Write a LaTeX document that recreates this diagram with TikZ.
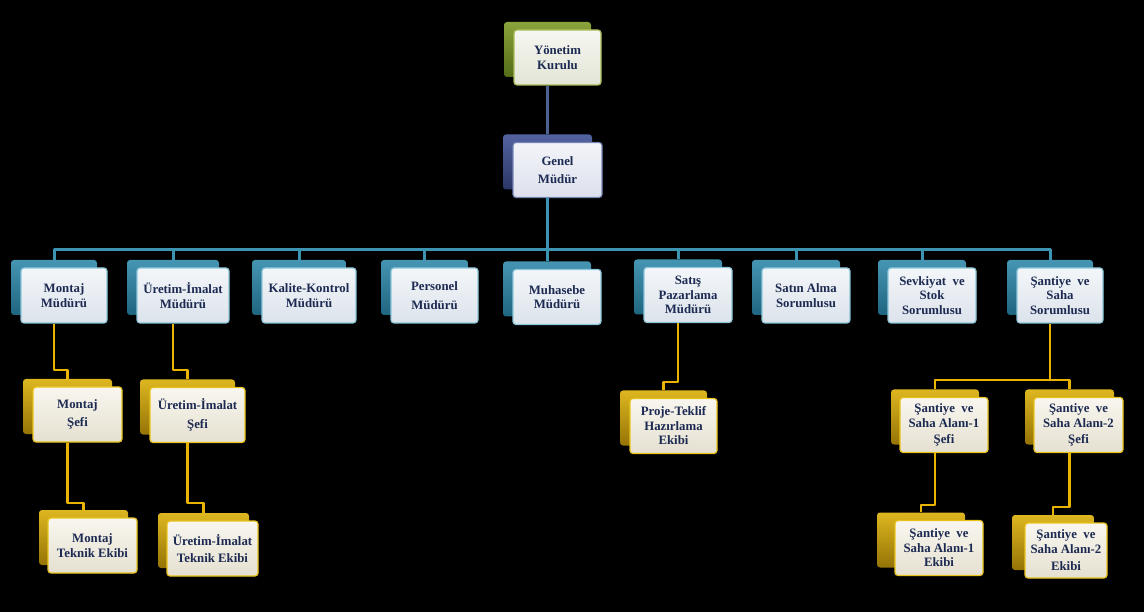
\documentclass[tikz,border=0pt]{standalone}
\usepackage{fontspec}
\setmainfont{Liberation Serif}
\usetikzlibrary{calc}
\definecolor{txt}{HTML}{1C2A52}
\definecolor{tealtop}{HTML}{4595B2}
\definecolor{tealbot}{HTML}{1F6580}
\definecolor{tealedge}{HTML}{8CC6DA}
\definecolor{goldtop}{HTML}{DDB620}
\definecolor{goldbot}{HTML}{957406}
\definecolor{goldedge}{HTML}{E8C21A}
\definecolor{greentop}{HTML}{8AA33A}
\definecolor{greenbot}{HTML}{536C18}
\definecolor{greenedge}{HTML}{A7BC58}
\definecolor{navytop}{HTML}{5363A0}
\definecolor{navybot}{HTML}{2A3666}
\definecolor{navyedge}{HTML}{7484B4}
\definecolor{tealfronttop}{HTML}{F3F6F9}
\definecolor{tealfrontbot}{HTML}{DCE3EB}
\definecolor{goldfronttop}{HTML}{F8F6EF}
\definecolor{goldfrontbot}{HTML}{E5E0D0}
\definecolor{greenfronttop}{HTML}{F6F7F0}
\definecolor{greenfrontbot}{HTML}{E2E5D6}
\definecolor{navyfronttop}{HTML}{F3F4F9}
\definecolor{navyfrontbot}{HTML}{DDE0EC}
\definecolor{busc}{HTML}{3C93B2}
\definecolor{slatec}{HTML}{4E6290}
\definecolor{goldc}{HTML}{E8B400}
\tikzset{
  x=1pt, y=-1pt,
  boxbase/.style={rounded corners=3pt, align=center, text=txt,
    font=\fontsize{12.8}{14.5}\selectfont\bfseries, inner sep=2pt,
    minimum height=55pt, line width=1.2pt},
  backbase/.style={rounded corners=3pt, minimum height=55pt, draw=none, inner sep=0pt},
  frontteal/.style={boxbase, draw=tealedge, top color=tealfronttop, bottom color=tealfrontbot},
  frontgold/.style={boxbase, draw=goldedge, top color=goldfronttop, bottom color=goldfrontbot},
  frontgreen/.style={boxbase, draw=greenedge, top color=greenfronttop, bottom color=greenfrontbot},
  frontnavy/.style={boxbase, draw=navyedge, top color=navyfronttop, bottom color=navyfrontbot},
  backteal/.style={backbase, top color=tealtop, bottom color=tealbot},
  backgold/.style={backbase, top color=goldtop, bottom color=goldbot},
  backgreen/.style={backbase, top color=greentop, bottom color=greenbot},
  backnavy/.style={backbase, top color=navytop, bottom color=navybot},
  busline/.style={draw=busc, line width=3pt, line join=round},
  slateline/.style={draw=slatec, line width=3pt},
  goldline/.style={draw=goldc, line width=2.4pt, line join=round},
}
% name, x, y, width, back dx, kind, text
\newcommand\orgnode[7]{%
  \node[back#6, minimum width=#4pt] (#1-b) at (#2+#5, #3-8) {};
  \node[front#6, minimum width=#4pt] (#1) at (#2,#3) {#7};
}
\begin{document}
\begin{tikzpicture}
\path[fill=black] (0,0) rectangle (1144,612);
\useasboundingbox (0,0) rectangle (1144,612);

\orgnode{yk}{557.5}{57.5}{87}{-10}{green}{Yönetim\\Kurulu}
\orgnode{gm}{557.5}{170}{89}{-10}{navy}{Genel\\[3pt]Müdür}

\orgnode{m1}{64}{295.5}{86}{-10}{teal}{Montaj\\Müdürü}
\orgnode{m2}{183}{295.5}{92}{-10}{teal}{Üretim-İmalat\\Müdürü}
\orgnode{m3}{309}{295.5}{94}{-10}{teal}{Kalite-Kontrol\\Müdürü}
\orgnode{m4}{434.5}{295.5}{87}{-10}{teal}{Personel\\[4pt]Müdürü}
\orgnode{m5}{557}{297}{88}{-10}{teal}{Muhasebe\\Müdürü}
\orgnode{m6}{688}{295}{88}{-10}{teal}{Satış\\Pazarlama\\Müdürü}
\orgnode{m7}{806}{295.5}{88}{-10}{teal}{Satın Alma\\Sorumlusu}
\orgnode{m8}{932}{295.5}{88}{-10}{teal}{Sevkiyat~ ve\\Stok\\Sorumlusu}
\orgnode{m9}{1060}{295.5}{86}{-10}{teal}{Şantiye~ ve\\Saha\\Sorumlusu}

\orgnode{s1}{77.5}{414.5}{89}{-10}{gold}{Montaj\\[4pt]Şefi}
\orgnode{s2}{197.5}{415}{95}{-10}{gold}{Üretim-İmalat\\[4pt]Şefi}
\orgnode{t1}{92.5}{545.5}{89}{-9}{gold}{Montaj\\Teknik Ekibi}
\orgnode{t2}{212.5}{548.5}{91}{-9}{gold}{Üretim-İmalat\\[3pt]Teknik Ekibi}
\orgnode{p1}{673.5}{426}{87}{-10}{gold}{Proje-Teklif\\Hazırlama\\Ekibi}
\orgnode{ss1}{944}{425}{88}{-9}{gold}{Şantiye~ ve\\Saha Alanı-1\\[2pt]Şefi}
\orgnode{ss2}{1078.5}{425}{89}{-9}{gold}{Şantiye~ ve\\Saha Alanı-2\\[2pt]Şefi}
\orgnode{se1}{939}{548}{88}{-18}{gold}{Şantiye~ ve\\Saha Alanı-1\\Ekibi}
\orgnode{se2}{1066}{550.5}{82}{-13}{gold}{Şantiye~ ve\\Saha Alanı-2\\[3pt]Ekibi}

% connectors
\coordinate (busy) at (0,250);
\draw[slateline] (yk-b.center |- yk.south) -- (gm-b.north);
\draw[busline] (gm-b.center |- gm.south) -- (gm-b.center |- busy);
\draw[busline] (m1-b.north) -- (m1-b.north |- busy) -- (m9-b.north |- busy) -- (m9-b.north);
\foreach \m in {m2,m3,m4,m5,m6,m7,m8}{
  \draw[busline] (\m-b.north) -- (\m-b.north |- busy);
}
\draw[goldline] (m1-b.center |- m1.south) -- (m1-b.center |- 0,370) -| (s1-b.north);
\draw[goldline] (m2-b.center |- m2.south) -- (m2-b.center |- 0,370) -| (s2-b.north);
\draw[goldline] (s1-b.center |- s1.south) -- (s1-b.center |- 0,503) -| (t1-b.north);
\draw[goldline] (s2-b.center |- s2.south) -- (s2-b.center |- 0,503) -| (t2-b.north);
\draw[goldline] (m6-b.center |- m6.south) -- (m6-b.center |- 0,382) -| (p1-b.north);
\draw[goldline] (m9-b.center |- m9.south) -- (m9-b.center |- 0,380);
\draw[goldline] (ss1-b.north) -- (ss1-b.north |- 0,380) -- (ss2-b.north |- 0,380) -- (ss2-b.north);
\draw[goldline] (ss1-b.center |- ss1.south) -- (ss1-b.center |- 0,505) -| (se1-b.north);
\draw[goldline] (ss2-b.center |- ss2.south) -- (ss2-b.center |- 0,507) -| (se2-b.north);
\end{tikzpicture}
\end{document}
